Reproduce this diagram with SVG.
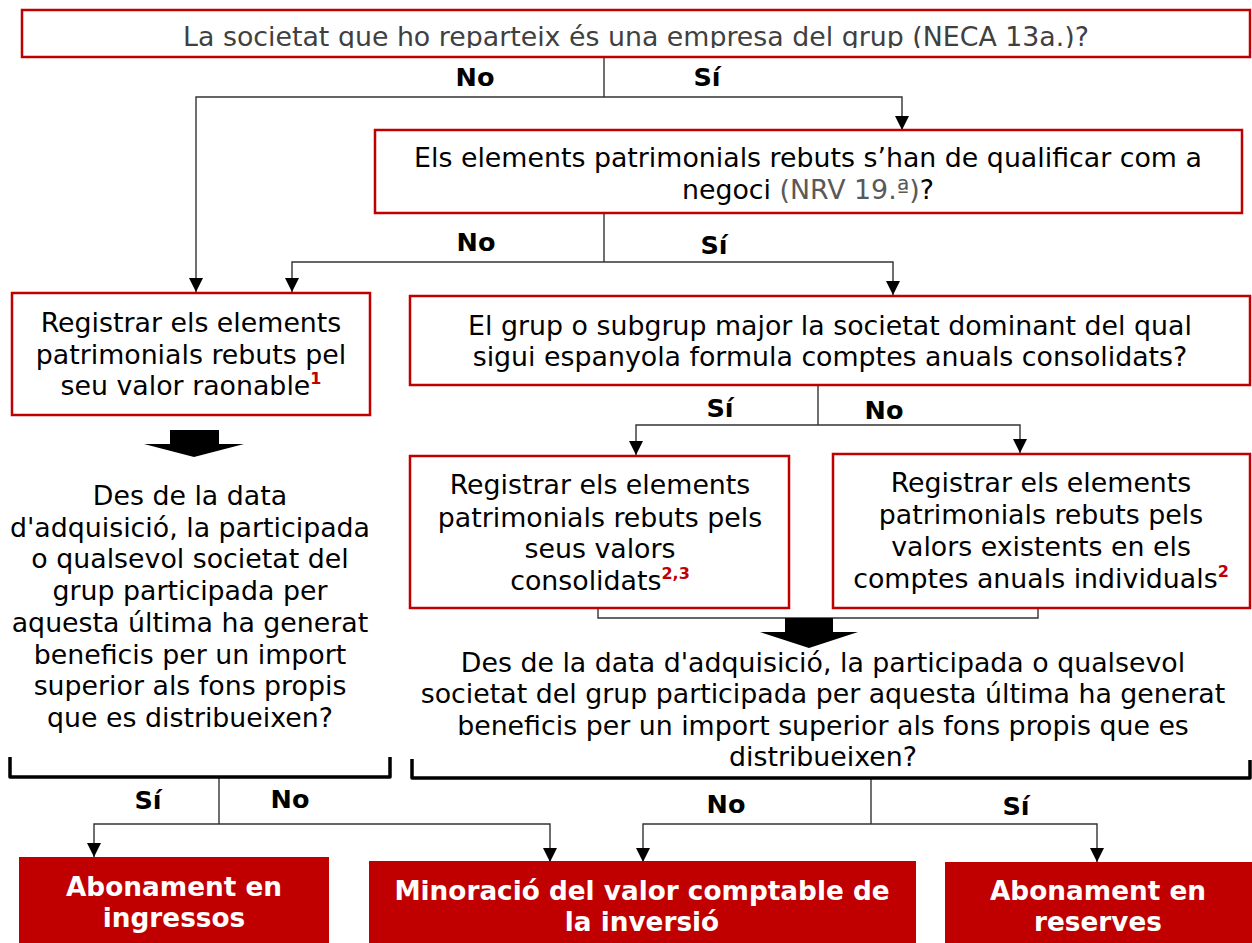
<svg xmlns="http://www.w3.org/2000/svg" width="1252" height="943" viewBox="0 0 1252 943">
<style>
.box{fill:#fff;stroke:#C00000;stroke-width:2.5}
.fbox{fill:#C00000;stroke:none}
.t{font-family:"DejaVu Sans",Verdana,sans-serif;font-size:26.8px;fill:#000;text-anchor:middle}
.g{fill:#595959}
.lbl{font-family:"DejaVu Sans",Verdana,sans-serif;font-size:25.5px;font-weight:bold;fill:#000;text-anchor:middle}
.w{font-family:"DejaVu Sans",Verdana,sans-serif;font-size:26.3px;font-weight:bold;fill:#fff;text-anchor:middle}
.sup{font-size:16px;font-weight:bold;fill:#C00000}
.c{fill:none;stroke:#333;stroke-width:1.4}
.br{fill:none;stroke:#000;stroke-width:3.5;stroke-linejoin:round}
.bk{fill:#000}
</style>
<defs>
<marker id="ah" viewBox="0 0 10 10" refX="10" refY="5" markerWidth="17" markerHeight="14" markerUnits="userSpaceOnUse" orient="auto">
<path d="M0,0 L10,5 L0,10 z" fill="#000"/>
</marker>
<clipPath id="clipTop"><rect x="22" y="10" width="1228" height="38"/></clipPath>
</defs>

<g id="connectors">
<path class="c" d="M604,57 V97"/>
<path class="c" d="M604,97 H196 V292" marker-end="url(#ah)"/>
<path class="c" d="M604,97 H902 V130" marker-end="url(#ah)"/>
<path class="c" d="M604,213 V262"/>
<path class="c" d="M604,262 H292 V292" marker-end="url(#ah)"/>
<path class="c" d="M604,262 H893 V295" marker-end="url(#ah)"/>
<path class="c" d="M818,385 V425"/>
<path class="c" d="M818,425 H636 V455" marker-end="url(#ah)"/>
<path class="c" d="M818,425 H1020 V453" marker-end="url(#ah)"/>
<path class="c" d="M598,609 V618 H1038 V609"/>
<path class="c" d="M219,778 V824"/>
<path class="c" d="M219,824 H94 V857" marker-end="url(#ah)"/>
<path class="c" d="M219,824 H550 V862" marker-end="url(#ah)"/>
<path class="c" d="M871,778 V824"/>
<path class="c" d="M871,824 H643 V862" marker-end="url(#ah)"/>
<path class="c" d="M871,824 H1097 V862" marker-end="url(#ah)"/>
<path class="br" d="M10,757 V777 H390 V757"/>
<path class="br" d="M412,759 V778 H1250 V760"/>
<path class="bk" d="M170,430 H219 V444 H244 L194,457 L144,444 H170 Z"/>
<path class="bk" d="M785,618 H833 V632 H858 L809,648 L760,632 H785 Z"/>
</g>

<g id="labels">
<text class="lbl" x="475" y="86">No</text>
<text class="lbl" x="707" y="86">Sí</text>
<text class="lbl" x="476" y="251">No</text>
<text class="lbl" x="714" y="254">Sí</text>
<text class="lbl" x="720" y="417">Sí</text>
<text class="lbl" x="884" y="419">No</text>
<text class="lbl" x="148" y="809">Sí</text>
<text class="lbl" x="290" y="808">No</text>
<text class="lbl" x="726" y="813">No</text>
<text class="lbl" x="1016" y="815">Sí</text>
</g>

<g id="q1">
<rect class="box" x="22" y="10" width="1228" height="47"/>
<text class="t" x="636" y="46" style="fill:#404040" clip-path="url(#clipTop)">La societat que ho reparteix és una empresa del grup (NECA 13a.)?</text>
</g>

<g id="q2">
<rect class="box" x="375" y="130" width="867" height="83"/>
<text class="t" x="808" y="167">Els elements patrimonials rebuts s’han de qualificar com a</text>
<text class="t" x="808" y="199">negoci <tspan class="g">(NRV 19.ª)</tspan>?</text>
</g>

<g id="reg-raonable">
<rect class="box" x="12" y="293" width="358" height="122"/>
<text class="t" x="191" y="332">Registrar els elements</text>
<text class="t" x="191" y="364">patrimonials rebuts pel</text>
<text class="t" x="191" y="395">seu valor raonable<tspan class="sup" dy="-11">1</tspan></text>
</g>

<g id="q3">
<rect class="box" x="410" y="296" width="840" height="89"/>
<text class="t" x="830" y="335">El grup o subgrup major la societat dominant del qual</text>
<text class="t" x="830" y="366">sigui espanyola formula comptes anuals consolidats?</text>
</g>

<g id="reg-consolidats">
<rect class="box" x="410" y="456" width="379" height="152"/>
<text class="t" x="600" y="494">Registrar els elements</text>
<text class="t" x="600" y="527">patrimonials rebuts pels</text>
<text class="t" x="600" y="558">seus valors</text>
<text class="t" x="600" y="590">consolidats<tspan class="sup" dy="-11">2,3</tspan></text>
</g>

<g id="reg-individuals">
<rect class="box" x="833" y="454" width="417" height="154"/>
<text class="t" x="1041" y="492">Registrar els elements</text>
<text class="t" x="1041" y="524">patrimonials rebuts pels</text>
<text class="t" x="1041" y="556">valors existents en els</text>
<text class="t" x="1041" y="588">comptes anuals individuals<tspan class="sup" dy="-11">2</tspan></text>
</g>

<g id="q-left">
<text class="t" x="190" y="505">Des de la data</text>
<text class="t" x="190" y="537">d'adquisició, la participada</text>
<text class="t" x="190" y="568">o qualsevol societat del</text>
<text class="t" x="190" y="600">grup participada per</text>
<text class="t" x="190" y="632">aquesta última ha generat</text>
<text class="t" x="190" y="664">beneficis per un import</text>
<text class="t" x="190" y="695">superior als fons propis</text>
<text class="t" x="190" y="727">que es distribueixen?</text>
</g>

<g id="q-right">
<text class="t" x="823" y="672">Des de la data d'adquisició, la participada o qualsevol</text>
<text class="t" x="823" y="703">societat del grup participada per aquesta última ha generat</text>
<text class="t" x="823" y="735">beneficis per un import superior als fons propis que es</text>
<text class="t" x="823" y="766">distribueixen?</text>
</g>

<g id="abon-ingressos">
<rect class="fbox" x="19" y="857" width="310" height="86"/>
<text class="w" x="174" y="896">Abonament en</text>
<text class="w" x="174" y="927">ingressos</text>
</g>

<g id="minoracio">
<rect class="fbox" x="369" y="861" width="547" height="82"/>
<text class="w" x="642" y="900">Minoració del valor comptable de</text>
<text class="w" x="642" y="931">la inversió</text>
</g>

<g id="abon-reserves">
<rect class="fbox" x="945" y="862" width="307" height="81"/>
<text class="w" x="1098" y="900">Abonament en</text>
<text class="w" x="1098" y="931">reserves</text>
</g>
</svg>
